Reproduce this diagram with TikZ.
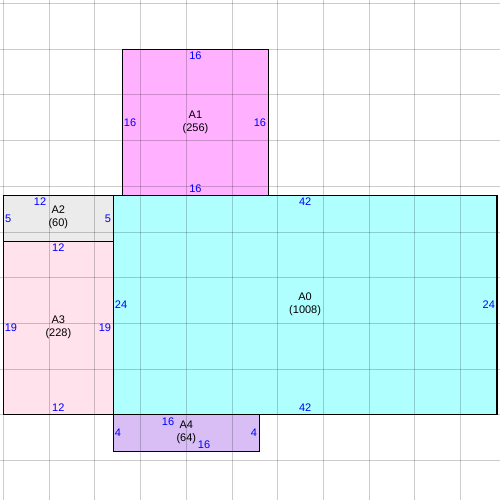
\documentclass[tikz,border=0pt]{standalone}
\usepackage{fontspec}
\setmainfont{Liberation Sans}
\definecolor{cA0}{RGB}{176,255,255}
\definecolor{cA1}{RGB}{255,176,255}
\definecolor{cA2}{RGB}{235,235,235}
\definecolor{cA3}{RGB}{255,226,236}
\definecolor{cA4}{RGB}{216,190,245}
\tikzset{
  region/.style={draw=none,rectangle,inner sep=0pt,outer sep=0pt},
  gridline/.style={draw=black,draw opacity=0.2,line width=1pt},
  border/.style={draw=black,line width=1.3pt},
  dim/.style={text=blue,inner sep=0pt,font=\fontsize{11}{12}\selectfont},
  lbl/.style={text=black,inner sep=0pt,align=center,font=\fontsize{11}{12.5}\selectfont},
}
\begin{document}
\begin{tikzpicture}[x=9.14pt,y=-9.14pt]
\useasboundingbox (-0.383,-0.383) rectangle (54.32,54.32);
\fill[white] (-0.383,-0.383) rectangle (54.32,54.32);
% region fills
\fill[cA1] (13,5) rectangle (29,21);
\fill[cA2] (0,21) rectangle (12,26);
\fill[cA3] (0,26) rectangle (12,45);
\fill[cA0] (12,21) rectangle (54,45);
\fill[cA4] (12,45) rectangle (28,49);
% grid
\foreach \k in {0,5,...,55} {
  \draw[gridline] (\k,-0.383) -- (\k,54.32);
  \draw[gridline] (-0.383,\k) -- (54.32,\k);
}
% region outlines as named nodes
\node[region,border,minimum width=146.24pt,minimum height=146.24pt] (A1) at (21,13) {};
\node[region,border,minimum width=109.68pt,minimum height=45.7pt] (A2) at (6,23.5) {};
\node[region,border,minimum width=109.68pt,minimum height=173.66pt] (A3) at (6,35.5) {};
\node[region,border,minimum width=383.88pt,minimum height=219.36pt] (A0) at (33,33) {};
\node[region,border,minimum width=146.24pt,minimum height=36.56pt] (A4) at (20,47) {};
% A1 labels
\node[lbl] (A1l) at (A1.center) {A1\\(256)};
\node[dim] (A1t) at (21,5.75) {16};
\node[dim] (A1b) at (21,20.3) {16};
\node[dim] (A1w) at (13.84,13) {16};
\node[dim] (A1e) at (28.06,13) {16};
% A2 labels
\node[lbl] (A2l) at (6,23.4) {A2\\(60)};
\node[dim] (A2t) at (4,21.72) {12};
\node[dim] (A2w) at (0.5,23.5) {5};
\node[dim] (A2e) at (11.43,23.5) {5};
% A3 labels
\node[lbl] (A3l) at (6,35.4) {A3\\(228)};
\node[dim] (A3t) at (6,26.75) {12};
\node[dim] (A3b) at (6,44.25) {12};
\node[dim] (A3w) at (0.82,35.5) {19};
\node[dim] (A3e) at (11.1,35.5) {19};
% A0 labels
\node[lbl] (A0l) at (33,32.9) {A0\\(1008)};
\node[dim] (A0t) at (33,21.72) {42};
\node[dim] (A0b) at (33,44.25) {42};
\node[dim] (A0w) at (12.86,33) {24};
\node[dim] (A0e) at (53.1,33) {24};
% A4 labels
\node[lbl] (A4l) at (20,46.9) {A4\\(64)};
\node[dim] (A4t) at (18,45.8) {16};
\node[dim] (A4b) at (21.94,48.3) {16};
\node[dim] (A4w) at (12.53,47) {4};
\node[dim] (A4e) at (27.4,47) {4};
\end{tikzpicture}
\end{document}
